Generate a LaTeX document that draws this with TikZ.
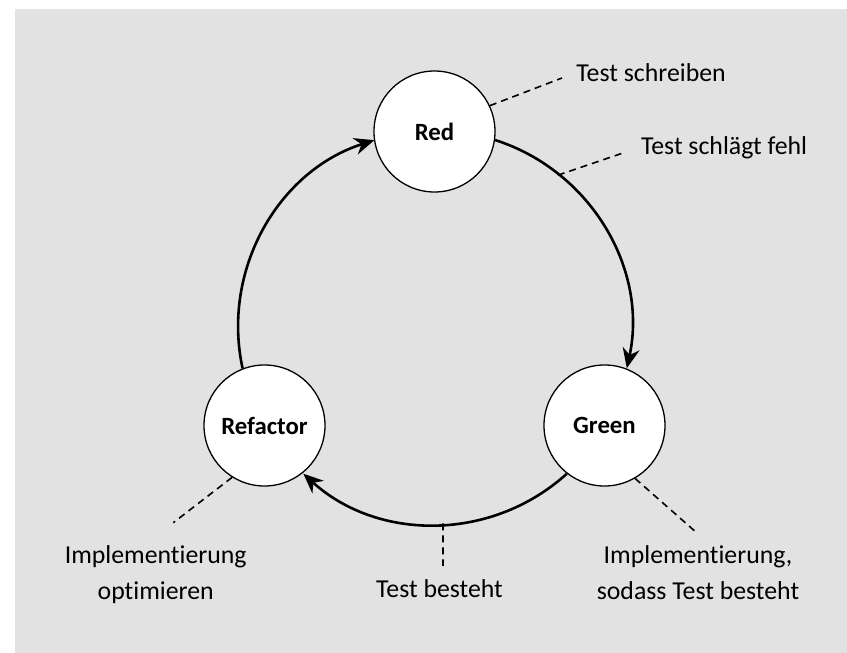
\documentclass[tikz,border=0pt]{standalone}
\usepackage{fontspec}
\setmainfont{Carlito}[Ligatures={NoCommon,NoRequired,NoContextual}]
\usetikzlibrary{arrows.meta}
\definecolor{panel}{HTML}{E2E2E2}
\tikzset{phase/.style={draw=black,circle,fill=white,line width=0.65pt,minimum size=60.5pt,inner sep=0pt,font=\fontsize{12.4}{15}\selectfont\bfseries}}
\tikzset{remark/.style={inner sep=0pt,font=\fontsize{12.9}{18}\selectfont,align=center}}
\tikzset{leader/.style={dash pattern=on 3.5pt off 2.5pt,line width=0.8pt}}
\tikzset{flow/.style={->,line width=1.3pt}}

\begin{document}
\begin{tikzpicture}[x=0.5pt,y=0.5pt,>={Stealth[length=10pt,width=8.5pt]}]
    \useasboundingbox (-434.5,-325.5) rectangle (412.5,327.5);
    \fill[panel] (-419.5,-325.5) rectangle (412.5,318.5);

    \node[phase] (red) at (0,196) {Red};
    \node[phase] (green) at (170,-98) {Green};
    \node[phase] (refactor) at (-170,-98) {Refactor};

    % cycle
    \draw[flow] (red.-8.87) arc[start angle=72.25,end angle=-12.25,radius=98pt];
    \draw[flow] (green.-128.87) arc[start angle=-47.75,end angle=-132.25,radius=98pt];
    \draw[flow] (refactor.111.13) arc[start angle=192.25,end angle=107.75,radius=98pt];

    % notes
    \node[remark,anchor=base west] (write) at (141.5,245.5) {Test schreiben};
    \node[remark,anchor=base west] (fail) at (206.2,172.5) {Test schlägt fehl};
    \node[remark,anchor=base] (pass) at (5,-270.5) {Test besteht};
    \node[remark,anchor=base] (implement) at (263.5,-271.5) {Implementierung,\\sodass Test besteht};
    \node[remark,anchor=base] (optimise) at (-278.8,-271.5) {Implementierung\\optimieren};

    \coordinate (failpt) at (51:196);
    \coordinate (passpt) at (-87.5:196);
    \coordinate (writeend) at (127.5,249.5);
    \coordinate (failend) at (190.5,175.2);
    \coordinate (passend) at (8.5,-238.5);
    \coordinate (implementend) at (262.5,-205.5);
    \coordinate (optimiseend) at (-261.2,-195.2);

    \draw[leader] (red.25) -- (writeend);
    \draw[leader] (failpt) -- (failend);
    \draw[leader] (passpt) -- (passend);
    \draw[leader] (green.-60) -- (implementend);
    \draw[leader] (refactor.-122) -- (optimiseend);
\end{tikzpicture}
\end{document}
